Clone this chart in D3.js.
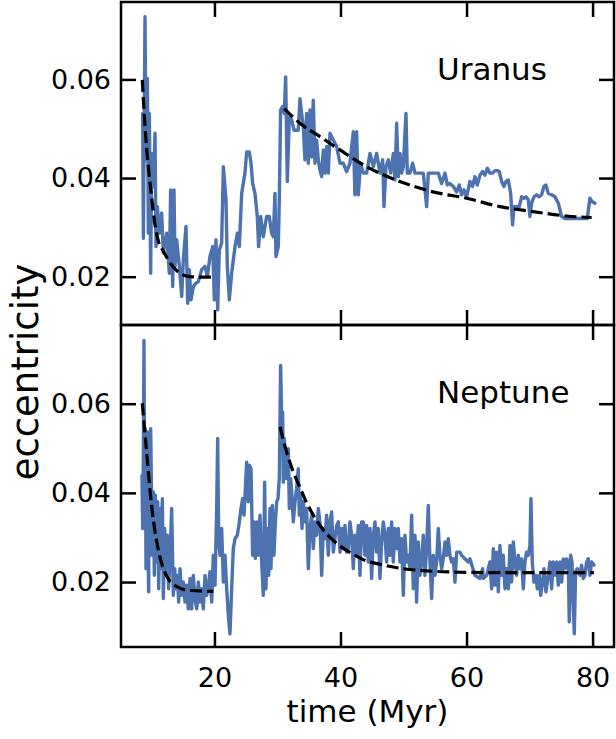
<!DOCTYPE html>
<html>
<head>
<meta charset="utf-8">
<script src="https://cdn.jsdelivr.net/npm/d3@7"></script>
<style>
  body { margin: 0; background: #fff; }
  svg { display: block; font-family: "DejaVu Sans", sans-serif; }
</style>
</head>
<body>
<div id="chart"></div>
<script>
// time (Myr), eccentricity
var uranusData = [
  [8.61, 0.0531], [8.72, 0.0278], [8.98, 0.0727], [9.14, 0.0437], [9.35, 0.0602], [9.51, 0.0288], [9.67, 0.0531],
  [9.88, 0.0207], [10.04, 0.0450], [10.30, 0.0383], [10.57, 0.0491], [10.72, 0.0261], [10.94, 0.0342], [11.25, 0.0288],
  [11.62, 0.0329], [11.89, 0.0248], [12.42, 0.0288], [12.84, 0.0207], [13.05, 0.0376], [13.37, 0.0180], [13.58, 0.0376],
  [13.74, 0.0221], [14.00, 0.0275], [14.43, 0.0221], [14.80, 0.0160], [15.06, 0.0234], [15.48, 0.0302], [15.75, 0.0146],
  [16.01, 0.0214], [16.28, 0.0153], [16.65, 0.0180], [17.07, 0.0187], [17.44, 0.0190], [17.97, 0.0214], [18.50, 0.0221],
  [18.87, 0.0200], [19.29, 0.0241], [19.72, 0.0261], [19.98, 0.0153], [20.24, 0.0275], [20.51, 0.0133], [20.77, 0.0254],
  [21.14, 0.0268], [21.41, 0.0423], [21.83, 0.0356], [22.04, 0.0221], [22.36, 0.0153], [22.73, 0.0207], [23.26, 0.0261],
  [23.63, 0.0288], [23.95, 0.0261], [24.32, 0.0369], [24.84, 0.0410],
  [25.11, 0.0453], [25.53, 0.0453], [25.80, 0.0430], [26.06, 0.0389], [26.43, 0.0369], [26.80, 0.0322], [27.01, 0.0261],
  [27.33, 0.0322], [27.75, 0.0281], [28.28, 0.0322], [28.70, 0.0322], [29.07, 0.0288], [29.34, 0.0281], [29.60, 0.0369],
  [29.76, 0.0241], [30.13, 0.0261], [30.29, 0.0356], [30.50, 0.0538], [30.82, 0.0545], [31.08, 0.0531], [31.30, 0.0605],
  [31.56, 0.0393], [31.88, 0.0524], [32.25, 0.0518], [32.62, 0.0497], [33.30, 0.0497], [33.57, 0.0561], [33.83, 0.0531],
  [34.10, 0.0504], [34.36, 0.0437], [34.63, 0.0531], [34.89, 0.0430], [35.16, 0.0538], [35.42, 0.0443], [35.68, 0.0558],
  [35.95, 0.0430], [36.21, 0.0477], [36.48, 0.0437], [36.74, 0.0416], [37.01, 0.0403], [37.27, 0.0457], [37.54, 0.0410],
  [37.80, 0.0464], [38.06, 0.0410], [38.33, 0.0491], [38.86, 0.0477], [39.39, 0.0464], [39.92, 0.0430], [40.44, 0.0430],
  [40.97, 0.0413], [41.50, 0.0430], [42.03, 0.0494], [42.29, 0.0366], [42.56, 0.0494], [42.82, 0.0366], [43.19, 0.0430],
  [43.62, 0.0410],
  [44.15, 0.0410], [44.68, 0.0450], [45.21, 0.0423], [45.73, 0.0450], [46.26, 0.0410], [46.69, 0.0437], [46.90, 0.0342],
  [47.21, 0.0423], [47.59, 0.0437], [47.96, 0.0410], [48.38, 0.0450], [48.64, 0.0396], [48.91, 0.0511], [49.17, 0.0403],
  [49.44, 0.0450], [49.70, 0.0410], [49.97, 0.0423], [50.39, 0.0531], [50.60, 0.0410], [51.02, 0.0410], [51.45, 0.0430],
  [51.82, 0.0410], [53.14, 0.0410], [53.67, 0.0342], [53.93, 0.0410], [55.52, 0.0410], [56.05, 0.0389], [56.58, 0.0410],
  [56.95, 0.0386], [57.37, 0.0389], [57.90, 0.0383], [58.43, 0.0372], [58.85, 0.0386], [59.22, 0.0366], [59.59, 0.0376],
  [60.01, 0.0362], [60.54, 0.0393], [60.96, 0.0383], [61.33, 0.0403], [61.71, 0.0386], [62.13, 0.0406], [62.55, 0.0413],
  [62.92, 0.0406], [63.29, 0.0420], [63.72, 0.0410], [64.14, 0.0410], [64.51, 0.0415], [64.88, 0.0415], [65.20, 0.0413],
  [65.57, 0.0393], [65.94, 0.0383], [66.26, 0.0393], [66.63, 0.0396], [67.00, 0.0369], [67.31, 0.0305], [67.52, 0.0342],
  [68.37, 0.0342], [68.74, 0.0362], [69.11, 0.0359], [69.43, 0.0362], [69.80, 0.0356], [70.06, 0.0322], [70.33, 0.0349],
  [70.70, 0.0362], [71.12, 0.0366], [71.54, 0.0362], [71.91, 0.0366], [72.28, 0.0383], [72.60, 0.0386], [72.97, 0.0369],
  [73.50, 0.0366], [74.03, 0.0362], [74.56, 0.0349], [75.09, 0.0322], [75.61, 0.0318], [79.16, 0.0318], [79.58, 0.0359],
  [79.95, 0.0352], [80.37, 0.0349]
];

var uranusFitEarly = [
  [8.55, 0.0599], [8.98, 0.0504], [9.51, 0.0423], [10.04, 0.0360], [10.57, 0.0305], [11.10, 0.0272], [11.88, 0.0252],
  [12.95, 0.0228], [14.53, 0.0207], [16.12, 0.0200], [17.90, 0.0199], [19.90, 0.0199]
];

var uranusFitLate = [
  [31.08, 0.0541], [33.57, 0.0511], [36.74, 0.0484], [39.92, 0.0457], [44.15, 0.0423], [49.43, 0.0393], [54.67, 0.0372],
  [60.02, 0.0359], [65.31, 0.0342], [70.54, 0.0332], [75.88, 0.0323], [79.85, 0.0320]
];

var neptuneData = [
  [8.50, 0.0439], [8.61, 0.0320], [8.72, 0.0499], [8.82, 0.0742], [8.93, 0.0335], [9.03, 0.0544], [9.14, 0.0230],
  [9.24, 0.0537], [9.40, 0.0320], [9.56, 0.0178], [9.67, 0.0537], [9.77, 0.0260], [9.88, 0.0544], [10.04, 0.0365],
  [10.14, 0.0260], [10.30, 0.0402], [10.46, 0.0215], [10.62, 0.0395], [10.83, 0.0245], [10.99, 0.0380], [11.15, 0.0185],
  [11.36, 0.0365], [11.52, 0.0230], [11.73, 0.0387], [11.89, 0.0163], [12.10, 0.0320], [12.31, 0.0215], [12.52, 0.0305],
  [12.73, 0.0185], [12.95, 0.0260], [13.21, 0.0365], [13.47, 0.0170], [13.69, 0.0230], [13.90, 0.0185], [14.11, 0.0215],
  [14.32, 0.0155], [14.53, 0.0230], [14.80, 0.0170], [15.06, 0.0200], [15.33, 0.0155], [15.59, 0.0193], [15.85, 0.0140],
  [16.12, 0.0208], [16.38, 0.0140], [16.65, 0.0215], [16.91, 0.0163], [17.18, 0.0140], [17.44, 0.0200], [17.71, 0.0155],
  [17.97, 0.0185], [18.23, 0.0140], [18.50, 0.0215], [18.76, 0.0170], [19.03, 0.0193], [19.29, 0.0223], [19.56, 0.0155],
  [19.82, 0.0260], [20.09, 0.0193], [20.35, 0.0365], [20.51, 0.0522], [20.67, 0.0297], [20.88, 0.0260], [21.14, 0.0320],
  [21.41, 0.0200], [21.67, 0.0260], [21.94, 0.0185], [22.20, 0.0126], [22.46, 0.0084], [22.73, 0.0185], [22.99, 0.0275],
  [23.26, 0.0297], [23.63, 0.0305], [23.95, 0.0335], [24.21, 0.0365], [24.48, 0.0387], [24.69, 0.0350],
  [25.11, 0.0469], [25.37, 0.0380], [25.53, 0.0462], [25.80, 0.0454], [26.06, 0.0260], [26.27, 0.0335], [26.48, 0.0253],
  [26.69, 0.0335], [26.96, 0.0260], [27.22, 0.0350], [27.49, 0.0245], [27.75, 0.0170], [27.96, 0.0424], [28.17, 0.0185],
  [28.39, 0.0320], [28.60, 0.0215], [28.81, 0.0365], [28.97, 0.0230], [29.18, 0.0372], [29.44, 0.0260], [29.66, 0.0335],
  [29.87, 0.0380], [30.08, 0.0387], [30.29, 0.0432], [30.50, 0.0686], [30.71, 0.0537], [30.82, 0.0581], [30.93, 0.0424],
  [31.08, 0.0522], [31.24, 0.0462], [31.45, 0.0432], [31.72, 0.0499], [31.88, 0.0365], [32.09, 0.0432], [32.30, 0.0395],
  [32.51, 0.0335], [32.78, 0.0380], [33.04, 0.0410], [33.30, 0.0454], [33.46, 0.0350], [33.68, 0.0395], [33.89, 0.0320],
  [34.10, 0.0380], [34.36, 0.0335], [34.63, 0.0365], [34.89, 0.0230], [35.16, 0.0320], [35.42, 0.0350], [35.68, 0.0275],
  [35.95, 0.0335], [36.21, 0.0305], [36.48, 0.0365], [36.74, 0.0335], [37.01, 0.0215], [37.27, 0.0320], [37.54, 0.0297],
  [37.80, 0.0350], [38.06, 0.0260], [38.33, 0.0335], [38.59, 0.0357], [38.86, 0.0267], [39.12, 0.0297], [39.39, 0.0327],
  [39.65, 0.0335], [39.92, 0.0267], [40.18, 0.0320], [40.44, 0.0275], [40.71, 0.0327], [40.97, 0.0267], [41.24, 0.0275],
  [41.50, 0.0335], [41.77, 0.0305], [42.03, 0.0230], [42.29, 0.0305], [42.56, 0.0260], [42.82, 0.0327], [43.09, 0.0215],
  [43.35, 0.0335],
  [43.62, 0.0335], [43.88, 0.0260], [44.15, 0.0327], [44.41, 0.0245], [44.68, 0.0320], [44.94, 0.0208], [45.21, 0.0305],
  [45.47, 0.0335], [45.73, 0.0267], [46.00, 0.0320], [46.26, 0.0208], [46.53, 0.0290], [46.79, 0.0335], [47.06, 0.0305],
  [47.32, 0.0245], [47.59, 0.0320], [47.85, 0.0260], [48.11, 0.0335], [48.38, 0.0245], [48.64, 0.0320], [48.91, 0.0275],
  [49.17, 0.0320], [49.44, 0.0245], [49.70, 0.0297], [49.97, 0.0170], [50.23, 0.0305], [50.49, 0.0245], [50.76, 0.0260],
  [51.02, 0.0230], [51.29, 0.0350], [51.55, 0.0185], [51.82, 0.0305], [52.08, 0.0155], [52.34, 0.0290], [52.61, 0.0215],
  [52.87, 0.0245], [53.14, 0.0305], [53.40, 0.0215], [53.67, 0.0275], [53.93, 0.0372], [54.20, 0.0245], [54.46, 0.0163],
  [54.72, 0.0260], [54.99, 0.0215], [55.25, 0.0245], [55.52, 0.0320], [55.78, 0.0260], [56.05, 0.0230], [56.31, 0.0252],
  [56.58, 0.0290], [56.84, 0.0260], [57.10, 0.0297], [57.37, 0.0260], [57.63, 0.0245], [57.90, 0.0252], [58.16, 0.0200],
  [58.43, 0.0267], [58.96, 0.0267], [59.22, 0.0260], [59.75, 0.0252], [60.28, 0.0245], [60.54, 0.0252], [61.33, 0.0215],
  [62.13, 0.0208], [62.55, 0.0230],
  [62.66, 0.0208], [63.19, 0.0215], [63.72, 0.0245], [63.98, 0.0185], [64.25, 0.0275], [64.51, 0.0193], [64.77, 0.0267],
  [65.04, 0.0178], [65.30, 0.0282], [65.57, 0.0215], [65.83, 0.0260], [66.10, 0.0185], [66.36, 0.0230], [66.63, 0.0185],
  [66.89, 0.0282], [67.15, 0.0200], [67.42, 0.0290], [67.68, 0.0245], [67.95, 0.0215], [68.21, 0.0260], [68.48, 0.0230],
  [68.74, 0.0252], [69.01, 0.0185], [69.27, 0.0245], [69.53, 0.0267], [69.80, 0.0260], [70.06, 0.0282], [70.22, 0.0387],
  [70.43, 0.0245], [70.70, 0.0200], [71.01, 0.0215], [71.23, 0.0185], [71.54, 0.0215], [71.76, 0.0170], [72.07, 0.0200],
  [72.28, 0.0230], [72.60, 0.0178], [72.97, 0.0215], [73.24, 0.0245], [73.50, 0.0185], [73.76, 0.0245], [74.03, 0.0215],
  [74.29, 0.0245], [74.56, 0.0193], [74.82, 0.0245], [75.09, 0.0200], [75.35, 0.0252], [75.62, 0.0230], [75.88, 0.0252],
  [76.15, 0.0245], [76.30, 0.0111], [76.52, 0.0260], [76.73, 0.0245], [76.94, 0.0148], [77.10, 0.0084], [77.31, 0.0223],
  [77.57, 0.0230], [78.00, 0.0215], [78.26, 0.0238], [78.52, 0.0208], [78.79, 0.0215], [79.05, 0.0245], [79.32, 0.0252],
  [79.58, 0.0215], [79.85, 0.0245], [80.22, 0.0238]
];

var neptuneFitEarly = [
  [8.55, 0.0601], [9.25, 0.0489], [10.04, 0.0369], [11.09, 0.0272], [12.42, 0.0213], [14.01, 0.0190], [16.12, 0.0181],
  [19.82, 0.0179]
];

var neptuneFitLate = [
  [30.40, 0.0548], [31.45, 0.0492], [32.51, 0.0447], [33.57, 0.0412], [34.63, 0.0378], [36.21, 0.0338], [37.80, 0.0308],
  [39.92, 0.0281], [42.03, 0.0262], [44.15, 0.0247], [46.26, 0.0240], [49.43, 0.0231], [53.67, 0.0225], [58.96, 0.0222],
  [65.00, 0.0221], [72.00, 0.0221], [80.20, 0.0221]
];

var xTicks = [20, 40, 60, 80];
var yTicks = [0.02, 0.04, 0.06];
var xDomain = [5.17, 83.4];

var figWidth = 616;
var figHeight = 739;
var plotLeft = 121;
var plotRight = 614;
var tickLen = 15;
var lineColor = "#4c72b0";

var panels = [
  { name: "Uranus", top: 2, bottom: 325, yDomain: [0.0102, 0.0757], data: uranusData, fits: [uranusFitEarly, uranusFitLate], showX: false },
  { name: "Neptune", top: 325, bottom: 647, yDomain: [0.00543, 0.07765], data: neptuneData, fits: [neptuneFitEarly, neptuneFitLate], showX: true }
];

var svg = d3.select("#chart")
  .append("svg")
  .attr("width", figWidth)
  .attr("height", figHeight);

var xScale = d3.scaleLinear().domain(xDomain).range([plotLeft, plotRight]);

panels.forEach(function(p, i) {
  var yScale = d3.scaleLinear().domain(p.yDomain).range([p.bottom, p.top]);

  var clipId = "clip" + i;
  svg.append("clipPath").attr("id", clipId)
    .append("rect")
    .attr("x", plotLeft).attr("y", p.top)
    .attr("width", plotRight - plotLeft).attr("height", p.bottom - p.top);

  var line = d3.line()
    .x(function(d) { return xScale(d[0]); })
    .y(function(d) { return yScale(d[1]); });

  var g = svg.append("g").attr("clip-path", "url(#" + clipId + ")");

  g.append("path")
    .datum(p.data)
    .attr("d", line)
    .attr("fill", "none")
    .attr("stroke", lineColor)
    .attr("stroke-width", 3.4)
    .attr("stroke-linejoin", "round")
    .attr("stroke-linecap", "round");

  p.fits.forEach(function(fit) {
    g.append("path")
      .datum(fit)
      .attr("d", d3.line().curve(d3.curveMonotoneX)
        .x(function(d) { return xScale(d[0]); })
        .y(function(d) { return yScale(d[1]); }))
      .attr("fill", "none")
      .attr("stroke", "#000")
      .attr("stroke-width", 3.2)
      .attr("stroke-dasharray", "12,5");
  });

  // axes, ticks pointing inward
  var leftAxis = svg.append("g")
    .attr("transform", "translate(" + plotLeft + ",0)")
    .call(d3.axisLeft(yScale).tickValues(yTicks).tickSize(-tickLen).tickPadding(10).tickFormat(d3.format(".2f")));
  var rightAxis = svg.append("g")
    .attr("transform", "translate(" + plotRight + ",0)")
    .call(d3.axisRight(yScale).tickValues(yTicks).tickSize(-tickLen).tickFormat(""));
  var topAxis = svg.append("g")
    .attr("transform", "translate(0," + p.top + ")")
    .call(d3.axisTop(xScale).tickValues(xTicks).tickSize(-tickLen).tickFormat(""));
  var bottomAxis = svg.append("g")
    .attr("transform", "translate(0," + p.bottom + ")")
    .call(d3.axisBottom(xScale).tickValues(xTicks).tickSize(-tickLen).tickPadding(21)
      .tickFormat(p.showX ? d3.format("d") : ""));

  [leftAxis, rightAxis, topAxis, bottomAxis].forEach(function(a) {
    a.select(".domain").remove();
    a.selectAll("line").attr("stroke", "#000").attr("stroke-width", 2.5);
    a.selectAll("text").attr("fill", "#000").style("font-size", "27px").style("font-family", "DejaVu Sans");
  });

  svg.append("rect")
    .attr("x", plotLeft).attr("y", p.top)
    .attr("width", plotRight - plotLeft).attr("height", p.bottom - p.top)
    .attr("fill", "none")
    .attr("stroke", "#000")
    .attr("stroke-width", 2.5);

  svg.append("text")
    .attr("x", 437)
    .attr("y", p.top + 78)
    .style("font-size", "31px")
    .text(p.name);
});

svg.append("text")
  .attr("text-anchor", "middle")
  .attr("x", (plotLeft + plotRight) / 2)
  .attr("y", 722)
  .style("font-size", "31px")
  .text("time (Myr)");

svg.append("text")
  .attr("text-anchor", "middle")
  .attr("transform", "translate(38,372) rotate(-90)")
  .style("font-size", "37px")
  .text("eccentricity");
</script>
</body>
</html>
